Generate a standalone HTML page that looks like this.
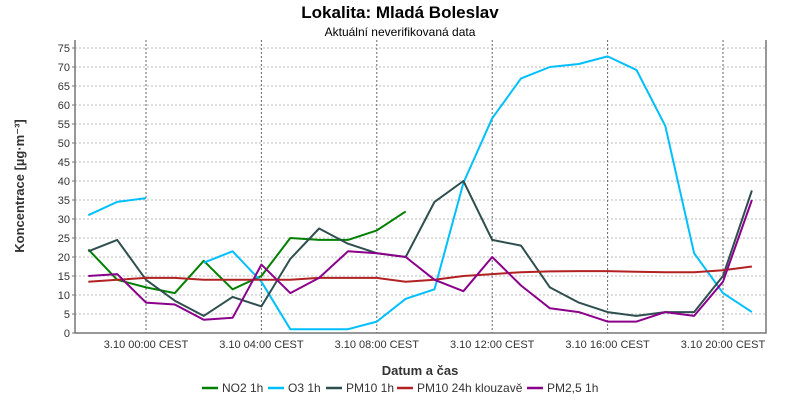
<!DOCTYPE html>
<html><head><meta charset="utf-8"><style>
body{margin:0;background:#fff;font-family:"Liberation Sans",sans-serif}
svg text{font-family:"Liberation Sans","DejaVu Sans",sans-serif}
</style></head><body>
<svg id="c" width="800" height="400">
<text x="400" y="18" text-anchor="middle" font-size="17" font-weight="bold" fill="#000">Lokalita: Mladá Boleslav</text>
<text x="400" y="36" text-anchor="middle" font-size="12" fill="#000">Aktuální neverifikovaná data</text>
<g id="grid"></g><g id="series"></g><g id="axes"></g>
<text transform="translate(24,186) rotate(-90)" text-anchor="middle" font-size="13" font-weight="bold" fill="#333">Koncentrace [µg·m⁻³]</text>
<text x="420" y="375" text-anchor="middle" font-size="13" font-weight="bold" fill="#333">Datum a čas</text>
<g id="legend"></g>
</svg>
<script>
const hours=[-2,-1,0,1,2,3,4,5,6,7,8,9,10,11,12,13,14,15,16,17,18,19,20,21];
const no2=[22,14,12,10.5,19,11.5,15,25,24.5,24.5,27,32,null,null,null,null,null,null,null,null,null,null,null,null];
const o3=[31,34.5,35.5,null,18.5,21.5,13.5,1,1,1,3,9,11.5,39.5,56.5,67,70,70.8,72.8,69.2,54.5,21,10.5,5.5];
const pm10=[21.5,24.5,14,8.5,4.5,9.5,7,19.5,27.5,23.5,21,20,34.5,40,24.5,23,12,8,5.5,4.5,5.5,5.5,15,37.5];
const pm10avg=[13.5,14,14.5,14.5,14,14,14,14,14.5,14.5,14.5,13.5,14,15,15.5,16,16.2,16.3,16.3,16.1,16,16,16.5,17.5];
const pm25=[15,15.5,8,7.5,3.5,4,18,10.5,14.5,21.5,21,20,14,11,20,12.5,6.5,5.5,3,3,5.5,4.5,13.5,35];
const yTicks=[0,5,10,15,20,25,30,35,40,45,50,55,60,65,70,75];
const xTickHours=[0,4,8,12,16,20];
const xTickLabels=["3.10 00:00 CEST","3.10 04:00 CEST","3.10 08:00 CEST","3.10 12:00 CEST","3.10 16:00 CEST","3.10 20:00 CEST"];
const seriesNames=["NO2 1h","O3 1h","PM10 1h","PM10 24h klouzavě","PM2,5 1h"];
const seriesColors=["#008000","#00bfff","#2f4f4f","#b22222","#8b008b"];
const seriesData=[no2,o3,pm10,pm10avg,pm25];
const NS="http://www.w3.org/2000/svg";
const L=75,R=766,T=40,B=333;
const X=h=>146+(h)*28.85;
const Y=v=>B-v*3.8;
function mk(t,a,p){const e=document.createElementNS(NS,t);for(const k in a)e.setAttribute(k,a[k]);p.appendChild(e);return e;}
const grid=document.getElementById('grid'),axes=document.getElementById('axes'),ser=document.getElementById('series'),leg=document.getElementById('legend');
yTicks.forEach(v=>{
 if(v>0){const g=mk('line',{x1:L,x2:R,y1:Y(v),y2:Y(v),stroke:'#bbb','stroke-dasharray':'2,2'},grid);
 
 }
 const t=mk('text',{x:L-5,y:Y(v)+4,'text-anchor':'end','font-size':11,fill:'#333'},axes);t.textContent=v;
 
 
 mk('line',{x1:L-3,x2:L,y1:Y(v),y2:Y(v),stroke:'#777'},axes);
});
xTickHours.forEach((h,i)=>{
 const g=mk('line',{x1:X(h),x2:X(h),y1:T,y2:B,stroke:'#666','stroke-dasharray':'2,2'},grid);
 
 
 const t=mk('text',{x:X(h),y:B+15,'text-anchor':'middle','font-size':11,fill:'#333'},axes);t.textContent=xTickLabels[i];
 
 
});
const ax=mk('path',{d:`M${L},${T} V${B} H${R} V${T}`,fill:'none',stroke:'#777','stroke-width':1.5},axes);


seriesData.forEach((d,s)=>{
 let p='',pen=false;
 d.forEach((v,i)=>{if(v==null){pen=false;return;}p+=(pen?'L':'M')+X(hours[i]).toFixed(1)+','+Y(v).toFixed(1)+' ';pen=true;});
 const e=mk('path',{d:p,fill:'none',stroke:seriesColors[s],'stroke-width':2,'stroke-linejoin':'round'},ser);
 
 
});
const lx=[202,268,326,397,527];
seriesNames.forEach((n,i)=>{
 const g=mk('g',{},leg);
 
 
 mk('line',{x1:lx[i],x2:lx[i]+16,y1:388,y2:388,stroke:seriesColors[i],'stroke-width':2.5},g);
 const t=mk('text',{x:lx[i]+20,y:392,'font-size':12,fill:'#333'},g);t.textContent=n;
});
</script>
</body></html>
